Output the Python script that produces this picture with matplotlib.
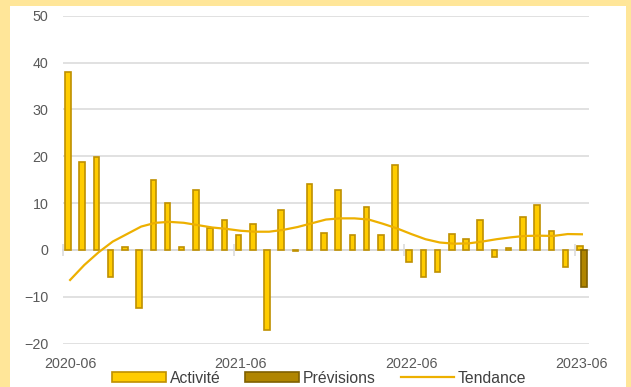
import matplotlib
matplotlib.use("Agg")
import matplotlib.pyplot as plt
import numpy as np
import pandas as pd
from matplotlib.patches import Rectangle
from matplotlib.lines import Line2D

plt.rcParams["font.family"] = ["Liberation Sans", "DejaVu Sans"]

# Monthly categories, 2020-06 .. 2023-06
months = [p.strftime("%Y-%m") for p in pd.period_range("2020-06", "2023-06", freq="M")]

activite = [38.0, 18.7, 19.8, -5.8, 0.7, -12.4, 14.9, 10.1, 0.6, 12.9,
            4.7, 6.5, 3.1, 5.5, -17.1, 8.5, -0.3, 14.1, 3.6, 12.8,
            3.2, 9.2, 3.2, 18.1, -2.6, -5.8, -4.8, 3.5, 2.3, 6.5,
            -1.4, 0.5, 7.0, 9.6, 4.1, -3.6, 0.85]

prev_months = ["2023-06"]
previsions = [-8.0]

tendance = [-6.4, -3.2, -0.5, 1.8, 3.4, 5.0, 5.8, 6.0, 5.8, 5.3,
            4.8, 4.5, 4.1, 3.9, 3.9, 4.3, 4.9, 5.7, 6.5, 6.75,
            6.75, 6.5, 5.6, 4.6, 3.4, 2.3, 1.6, 1.35, 1.4, 1.8,
            2.3, 2.7, 3.0, 3.05, 3.0, 3.4, 3.35]

label_months = ["2020-06", "2021-06", "2022-06", "2023-06"]
y_ticks = [-20, -10, 0, 10, 20, 30, 40, 50]

# colours
BG_YELLOW = "#FFE699"
BAR_FILL = "#FFCC00"
BAR_EDGE = "#BF9000"
PREV_FILL = "#B08500"
PREV_EDGE = "#7F6000"
TREND = "#EDB000"
GRID = "#D9D9D9"
TXT = "#595959"

fig = plt.figure(figsize=(6.31, 3.87), dpi=100, facecolor=BG_YELLOW)
fig.patches.append(Rectangle((10 / 631, 0), 616 / 631, 381 / 387,
                             transform=fig.transFigure, facecolor="white",
                             edgecolor="none", zorder=-10))

ax = fig.add_axes([63 / 631, 1 - 343.7 / 387, (589 - 63) / 631, (343.7 - 15.7) / 387])
ax.set_facecolor("none")
ax.set_zorder(1)

x = np.arange(len(months))
idx = {m: i for i, m in enumerate(months)}
bw = 0.39
off = 0.15

ax.bar(x - off, activite, width=bw, color=BAR_FILL, edgecolor=BAR_EDGE,
       linewidth=1.2, zorder=3)
px = np.array([idx[m] for m in prev_months])
ax.bar(px + off, previsions, width=bw, color=PREV_FILL, edgecolor=PREV_EDGE,
       linewidth=1.2, zorder=3)
ax.plot(x, tendance, color=TREND, linewidth=1.6, zorder=4)

ax.set_xlim(-0.5, len(months) - 0.5)
ax.set_ylim(-20, 50)
ax.set_yticks(y_ticks)
ax.yaxis.grid(True, color=GRID, linewidth=1.1, zorder=1)
ax.set_axisbelow(True)
ax.tick_params(axis="y", length=0, pad=10.5, labelsize=10.3, labelcolor=TXT)

for s in ["top", "right", "left"]:
    ax.spines[s].set_visible(False)
ax.spines["bottom"].set_position(("data", 0))
ax.spines["bottom"].set_color(GRID)
ax.spines["bottom"].set_linewidth(1.1)
ax.spines["bottom"].set_zorder(2)

# boundary ticks on the zero line every 12 months
bounds = [idx[m] - 0.5 for m in label_months]
ax.set_xticks(bounds)
ax.set_xticklabels([])
ax.tick_params(axis="x", which="major", direction="inout", length=8,
               width=1.1, color=GRID)

# date labels along the bottom edge
sec = ax.secondary_xaxis(0)
sec.set_xticks([idx[m] for m in label_months])
sec.set_xticklabels(label_months)
sec.tick_params(length=0, pad=9.5, labelsize=10.3, labelcolor=TXT)
sec.spines["bottom"].set_visible(False)

handles = [
    Rectangle((0, 0), 1, 1, facecolor=BAR_FILL, edgecolor=BAR_EDGE, linewidth=1.2),
    Rectangle((0, 0), 1, 1, facecolor=PREV_FILL, edgecolor=PREV_EDGE, linewidth=1.2),
    Line2D([0], [0], color=TREND, linewidth=1.6),
]
fig.legend(handles, ["Activité", "Prévisions", "Tendance"], loc="center",
           bbox_to_anchor=(0.506, 0.023), ncol=3, frameon=False,
           fontsize=11.3, labelcolor="#404040", handlelength=3.4,
           handleheight=0.65, handletextpad=0.25, columnspacing=1.6,
           borderpad=0, borderaxespad=0)

fig.savefig("out.png", dpi=100, facecolor=BG_YELLOW)
